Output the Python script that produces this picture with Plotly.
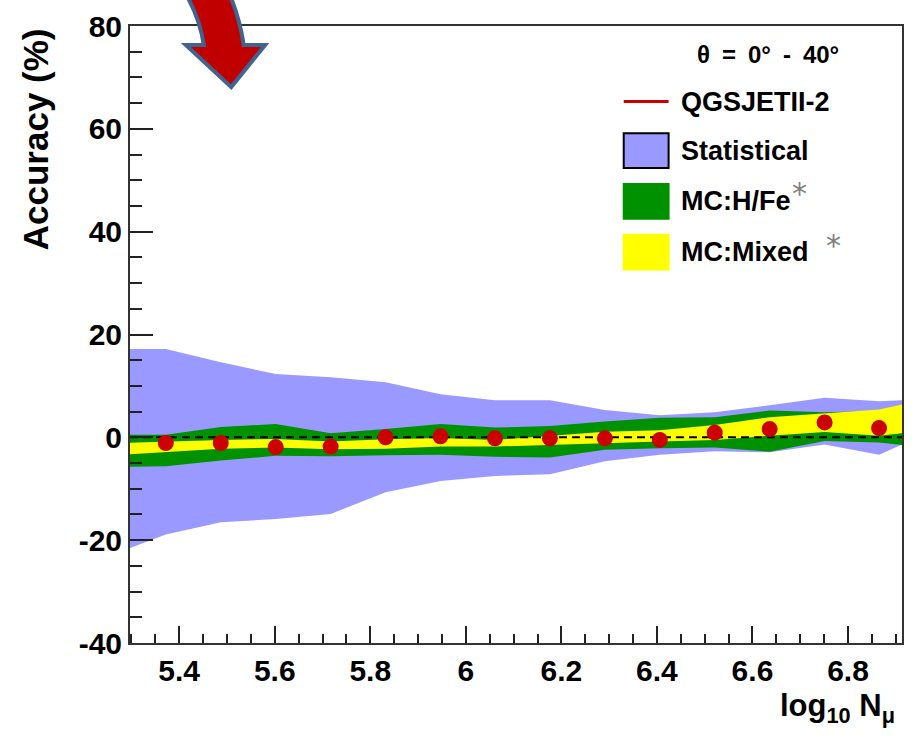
import plotly.graph_objects as go

# ---------------------------------------------------------------- data
# bin centres in log10(N_mu)
log_nmu = [5.372, 5.487, 5.602, 5.717, 5.832, 5.947, 6.061,
           6.176, 6.291, 6.406, 6.521, 6.636, 6.751, 6.865]
# reconstructed accuracy (%) for QGSJETII-2
accuracy = [-1.1, -1.1, -1.9, -1.8, 0.0, 0.2, -0.2,
            -0.2, -0.2, -0.5, 0.9, 1.6, 2.9, 1.8]

# band edges: left axis edge, the 14 bin centres, right axis edge
x_lo_edge, x_hi_edge = 5.297, 6.913
stat_hi = [17.2, 17.2, 14.6, 12.3, 11.7, 10.7, 8.4, 7.2,
           7.2, 5.3, 4.3, 4.9, 6.25, 7.7, 7.0, 7.2]
stat_lo = [-21.5, -18.9, -16.5, -15.9, -14.9, -10.7, -8.5, -7.5,
           -7.2, -4.65, -3.4, -2.7, -2.9, -1.4, -3.4, -1.4]
hfe_hi = [0.5, 0.5, 2.0, 2.6, 0.8, 1.6, 2.6, 1.9,
          2.2, 3.1, 3.8, 3.9, 5.2, 4.9, 5.1, 5.3]
hfe_lo = [-5.7, -5.6, -4.5, -3.6, -3.7, -3.5, -3.4, -3.8,
          -3.9, -2.4, -2.1, -2.0, -2.8, -0.7, -1.0, -1.5]
mix_hi = [-1.05, -0.8, -0.5, -0.3, -0.8, -0.35, -0.15, -0.5,
          0.3, 1.1, 1.4, 2.4, 3.9, 4.7, 5.4, 6.4]
mix_lo = [-3.3, -2.9, -2.2, -2.0, -2.3, -2.2, -1.8, -1.8,
          -1.4, -1.1, -0.8, -0.5, 0.3, 1.05, 0.3, 0.8]

x_ticks = [5.4, 5.6, 5.8, 6.0, 6.2, 6.4, 6.6, 6.8]
x_tick_labels = ["5.4", "5.6", "5.8", "6", "6.2", "6.4", "6.6", "6.8"]
y_ticks = [-40, -20, 0, 20, 40, 60, 80]
y_tick_labels = ["-40", "-20", "0", "20", "40", "60", "80"]

legend_header = "θ = 0° - 40°"
legend_names = ["QGSJETII-2", "Statistical", "MC:H/Fe", "MC:Mixed"]

# ---------------------------------------------------------------- style
FONT = "Liberation Sans, Arial, sans-serif"
BLUE = "#9999ff"
GREEN = "#009100"
YELLOW = "#ffff00"
RED = "#cc0000"
W, H = 913, 737
M_L, M_R, M_T, M_B = 130, 9, 22, 94
PW, PH = W - M_L - M_R, H - M_T - M_B


def fx(px):
    """pixel column -> paper x"""
    return (px - M_L) / PW


def fy(py):
    """pixel row -> paper y"""
    return (H - M_B - py) / PH


band_x = [x_lo_edge] + log_nmu + [x_hi_edge]


def band(hi, lo, color):
    return go.Scatter(
        x=band_x + band_x[::-1], y=hi + lo[::-1],
        mode="lines", fill="toself", fillcolor=color,
        line=dict(width=0, color=color), hoverinfo="skip", showlegend=False)


fig = go.Figure()
fig.add_trace(band(stat_hi, stat_lo, BLUE))
fig.add_trace(band(hfe_hi, hfe_lo, GREEN))
fig.add_trace(band(mix_hi, mix_lo, YELLOW))
fig.add_trace(go.Scatter(
    x=[x_lo_edge, x_hi_edge], y=[0, 0], mode="lines",
    line=dict(color="black", width=2, dash="8px,5px"),
    hoverinfo="skip", showlegend=False))
fig.add_trace(go.Scatter(
    x=log_nmu, y=accuracy, mode="markers", name=legend_names[0],
    marker=dict(color=RED, size=16, line=dict(width=0)),
    showlegend=False))

tickfont = dict(family=FONT, size=30, color="black", weight="bold")

fig.update_xaxes(
    range=[x_lo_edge, x_hi_edge], tickmode="array",
    tickvals=x_ticks, ticktext=x_tick_labels,
    ticks="inside", ticklen=17, tickwidth=1.5, tickcolor="#222",
    minor=dict(dtick=0.05, tick0=5.3, ticks="inside", ticklen=9,
               tickwidth=1.5, tickcolor="#222"),
    showline=True, mirror=True, linecolor="#333", linewidth=2,
    showgrid=False, zeroline=False, tickfont=tickfont)
fig.update_yaxes(
    range=[-40, 80], tickmode="array",
    tickvals=y_ticks, ticktext=y_tick_labels,
    ticks="inside", ticklen=23, tickwidth=1.5, tickcolor="#222",
    minor=dict(dtick=5, tick0=0, ticks="inside", ticklen=12,
               tickwidth=1.5, tickcolor="#222"),
    showline=True, mirror=True, linecolor="#333", linewidth=2,
    showgrid=False, zeroline=False, tickfont=tickfont)

annotations = [
    # axis titles
    dict(text="Accuracy (%)", x=fx(35), y=1.0, xanchor="center",
         yanchor="top", textangle=-90,
         font=dict(family=FONT, size=35, color="black", weight="bold")),
    dict(text="log<sub>10</sub> N<sub>μ</sub>", x=fx(899), y=fy(708),
         xanchor="right", yanchor="middle",
         font=dict(family=FONT, size=31, color="black", weight="bold")),
    # legend header, with en spaces for the wider TLatex spacing
    dict(text=legend_header.replace(" ", "\u2002"), x=fx(770), y=fy(51),
         xanchor="center", yanchor="middle",
         font=dict(family=FONT, size=24, color="black", weight="bold")),
]
entry_rows = [98, 147.5, 198, 249.5]
for name, row in zip(legend_names, entry_rows):
    annotations.append(dict(
        text=name, x=fx(680), y=fy(row), xanchor="left", yanchor="middle",
        font=dict(family=FONT, size=27, color="black", weight="bold")))
# grey asterisks beside the MC entries
for ax_px, ay_px in [(801, 191), (835, 243)]:
    annotations.append(dict(
        text="*", x=fx(ax_px), y=fy(ay_px), xanchor="center",
        yanchor="middle",
        font=dict(family="DejaVu Sans", size=30, color="#808080")))
for a in annotations:
    a.update(xref="paper", yref="paper", showarrow=False)

shapes = [
    # legend swatches
    dict(type="line", x0=fx(625), x1=fx(670), y0=fy(98), y1=fy(98),
         line=dict(color=RED, width=3)),
    dict(type="rect", x0=fx(625), x1=fx(670), y0=fy(130), y1=fy(165),
         fillcolor=BLUE, line=dict(color="black", width=2)),
    dict(type="rect", x0=fx(624), x1=fx(671), y0=fy(180), y1=fy(217),
         fillcolor=GREEN, line=dict(width=0)),
    dict(type="rect", x0=fx(624), x1=fx(671), y0=fy(231), y1=fy(268),
         fillcolor=YELLOW, line=dict(width=0)),
]

# curved block arrow in the top-left corner
def P(px, py):
    return f"{fx(px):.5f},{fy(py):.5f}"


arrow_path = (
    f"M {P(185, -12)} Q {P(200, 14)} {P(204, 41)} L {P(186, 41)} "
    f"L {P(231.5, 83.5)} L {P(265.5, 41)} L {P(244, 41)} "
    f"Q {P(240, 14)} {P(229, -12)} Z"
)
shapes.append(dict(type="path", path=arrow_path, xref="paper", yref="paper",
                   fillcolor="#c00000", line=dict(color="#41648f", width=4),
                   layer="above"))
for s in shapes:
    s.setdefault("xref", "paper")
    s.setdefault("yref", "paper")

fig.update_layout(
    width=W, height=H, autosize=False,
    margin=dict(l=M_L, r=M_R, t=M_T, b=M_B, pad=0),
    paper_bgcolor="white", plot_bgcolor="white",
    showlegend=False, annotations=annotations, shapes=shapes)

fig.write_html("out.html")
